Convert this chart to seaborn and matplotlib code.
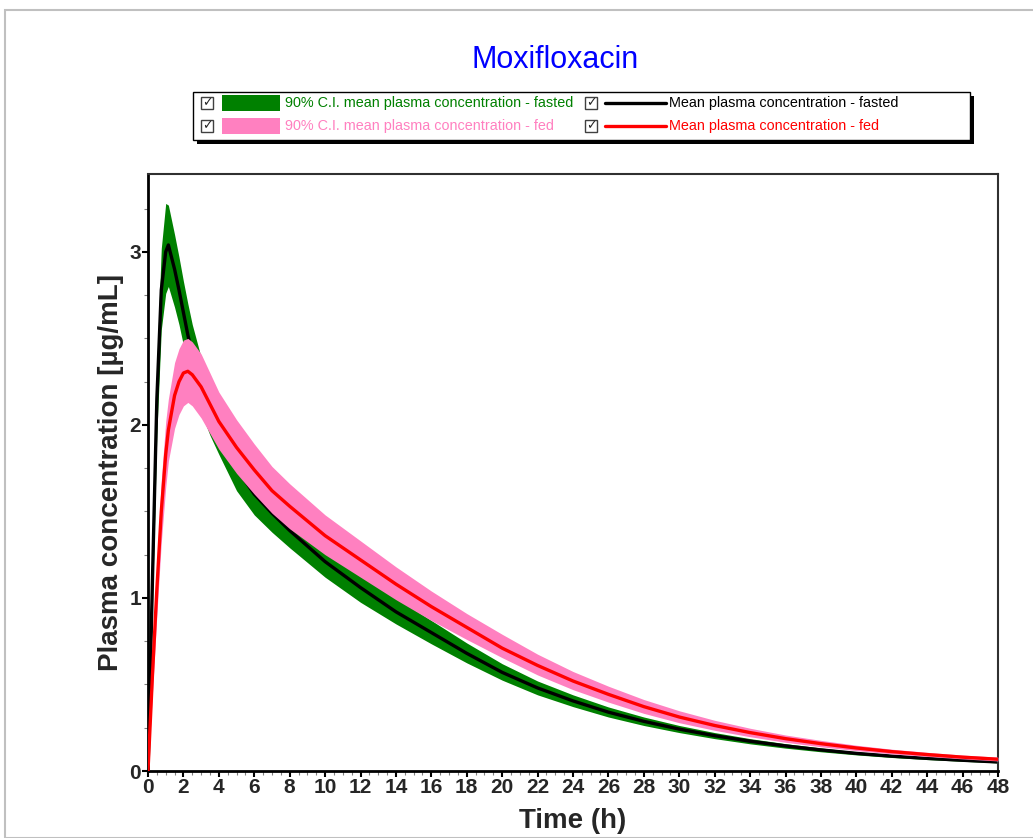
import matplotlib
matplotlib.use("Agg")
import matplotlib.pyplot as plt
import seaborn as sns
import pandas as pd
from matplotlib.patches import Rectangle
from matplotlib.lines import Line2D
from matplotlib.ticker import MultipleLocator

# ---------------- data ----------------
time_h = [0, 0.25, 0.5, 0.75, 1.0, 1.15, 1.5, 1.75, 2.0, 2.25, 2.5, 3, 3.5, 4, 5, 6, 7, 8,
          10, 12, 14, 16, 18, 20, 22, 24, 26, 28, 30, 32, 34, 36, 38, 40, 42, 44, 46, 48]

fasted_mean = [0, 1.10, 2.15, 2.78, 3.00, 3.04, 2.90, 2.78, 2.65, 2.52, 2.41, 2.24, 2.10, 1.98,
               1.75, 1.60, 1.49, 1.39, 1.21, 1.06, 0.92, 0.80, 0.68, 0.57, 0.48, 0.405, 0.34,
               0.287, 0.242, 0.204, 0.172, 0.145, 0.122, 0.102, 0.086, 0.073, 0.062, 0.052]
fasted_upper = [0, 1.25, 2.35, 3.02, 3.28, 3.27, 3.10, 2.97, 2.83, 2.70, 2.58, 2.39, 2.25, 2.12,
                1.90, 1.74, 1.62, 1.51, 1.32, 1.15, 1.00, 0.87, 0.74, 0.62, 0.52, 0.44, 0.37,
                0.312, 0.263, 0.222, 0.187, 0.158, 0.133, 0.111, 0.094, 0.08, 0.068, 0.057]
fasted_lower = [0, 0.95, 1.95, 2.55, 2.76, 2.80, 2.68, 2.58, 2.46, 2.34, 2.24, 2.07, 1.94, 1.83,
                1.62, 1.48, 1.38, 1.29, 1.12, 0.975, 0.85, 0.735, 0.625, 0.525, 0.44, 0.372,
                0.312, 0.263, 0.222, 0.187, 0.157, 0.132, 0.111, 0.093, 0.078, 0.066, 0.056, 0.047]

fed_mean = [0, 0.55, 1.05, 1.50, 1.83, 1.97, 2.17, 2.25, 2.30, 2.31, 2.29, 2.22, 2.12, 2.02,
            1.87, 1.74, 1.62, 1.53, 1.36, 1.22, 1.08, 0.95, 0.83, 0.71, 0.61, 0.52, 0.443,
            0.372, 0.312, 0.263, 0.222, 0.187, 0.158, 0.133, 0.112, 0.095, 0.08, 0.068]
fed_upper = [0, 0.65, 1.20, 1.68, 2.02, 2.15, 2.36, 2.44, 2.49, 2.50, 2.48, 2.41, 2.30, 2.19,
             2.03, 1.89, 1.76, 1.66, 1.48, 1.33, 1.18, 1.04, 0.91, 0.79, 0.675, 0.575, 0.49,
             0.413, 0.348, 0.293, 0.247, 0.208, 0.177, 0.149, 0.126, 0.108, 0.092, 0.08]
fed_lower = [0, 0.45, 0.90, 1.32, 1.64, 1.79, 1.98, 2.06, 2.11, 2.13, 2.11, 2.04, 1.95, 1.86,
             1.72, 1.60, 1.49, 1.40, 1.25, 1.12, 0.99, 0.87, 0.76, 0.655, 0.555, 0.47, 0.398,
             0.333, 0.279, 0.235, 0.198, 0.166, 0.14, 0.118, 0.099, 0.084, 0.07, 0.058]

legend_labels = ["90% C.I. mean plasma concentration - fasted",
                 "90% C.I. mean plasma concentration - fed",
                 "Mean plasma concentration - fasted",
                 "Mean plasma concentration - fed"]
x_ticks = list(range(0, 49, 2))
y_ticks = [0, 1, 2, 3]

GREEN = "#008000"
PINK = "#ff80c0"
RED = "#ff0000"
BLACK = "#000000"

# ---------------- figure ----------------
sns.set_style("ticks")
plt.rcParams["font.family"] = ["Liberation Sans", "DejaVu Sans"]

W, H = 1033, 838
fig = plt.figure(figsize=(W / 100, H / 100), dpi=100)
fig.patch.set_facecolor("white")

# outer gray frame
fig.add_artist(Rectangle((5 / W, 0), 1.2, 1 - 10 / H, transform=fig.transFigure,
                         fill=False, edgecolor="#c0c0c0", lw=1.5))

ax = fig.add_axes([148 / W, 67 / H, 850 / W, 597 / H])

df_fasted = pd.DataFrame({"t": time_h, "c": fasted_mean})
df_fed = pd.DataFrame({"t": time_h, "c": fed_mean})

ax.fill_between(time_h, fasted_lower, fasted_upper, color=GREEN, lw=0, zorder=1)
sns.lineplot(data=df_fasted, x="t", y="c", ax=ax, color=BLACK, lw=2.4, zorder=2,
             estimator=None, sort=False)
ax.fill_between(time_h, fed_lower, fed_upper, color=PINK, lw=0, zorder=3)
sns.lineplot(data=df_fed, x="t", y="c", ax=ax, color=RED, lw=2.4, zorder=4,
             estimator=None, sort=False)

ax.set_xlim(0, 48)
ax.set_ylim(0, 3.45)
ax.set_xticks(x_ticks)
ax.set_yticks(y_ticks)
ax.xaxis.set_minor_locator(MultipleLocator(0.5))
ax.yaxis.set_minor_locator(MultipleLocator(0.25))
ax.tick_params(axis="both", which="major", length=4, width=1.5, color="black",
               labelsize=15, pad=1, direction="out")
ax.tick_params(axis="both", which="minor", length=3, width=0.8, color="#808080",
               direction="out")
for lab in ax.get_xticklabels() + ax.get_yticklabels():
    lab.set_fontweight("bold")

for side in ["left", "bottom"]:
    ax.spines[side].set_linewidth(2)
    ax.spines[side].set_color("black")
for side in ["right", "top"]:
    ax.spines[side].set_visible(True)
    ax.spines[side].set_linewidth(1.5)
    ax.spines[side].set_color("#303030")

ax.set_xlabel("Time (h)", fontsize=20, fontweight="bold", labelpad=8)
ax.set_ylabel("Plasma concentration [µg/mL]", fontsize=20, fontweight="bold", labelpad=4)

fig.text(555 / W, 1 - 60 / H, "Moxifloxacin", color="#0000ff", fontsize=22,
         ha="center", va="center")

# ---------------- legend ----------------
fig.add_artist(Rectangle((197 / W, 1 - 144 / H), 777 / W, 48 / H, transform=fig.transFigure,
                         facecolor="black", edgecolor="none", zorder=5))
fig.add_artist(Rectangle((193 / W, 1 - 140 / H), 777 / W, 48 / H, transform=fig.transFigure,
                         facecolor="white", edgecolor="black", lw=1, zorder=6))


def checkbox(xp, yp):
    fig.add_artist(Rectangle((xp / W, 1 - (yp + 6) / H), 12 / W, 12 / H,
                             transform=fig.transFigure, facecolor="white",
                             edgecolor="#404040", lw=1, zorder=7))
    fig.text((xp + 6) / W, 1 - yp / H, "✓", fontsize=9, fontweight="bold",
             family=["DejaVu Sans"], ha="center", va="center", zorder=8)


rows = [103, 126]
band_colors = [GREEN, PINK]
line_colors = [BLACK, RED]
for i, yp in enumerate(rows):
    checkbox(201, yp)
    fig.add_artist(Rectangle((222 / W, 1 - (yp + 8) / H), 58 / W, 16 / H,
                             transform=fig.transFigure, facecolor=band_colors[i],
                             edgecolor="none", zorder=7))
    fig.text(285 / W, 1 - yp / H, legend_labels[i], color=band_colors[i], fontsize=10.4,
             ha="left", va="center", zorder=8)
    checkbox(585, yp)
    fig.add_artist(Line2D([605 / W, 666 / W], [1 - yp / H, 1 - yp / H],
                          transform=fig.transFigure, color=line_colors[i], lw=2.4, zorder=7))
    fig.text(669 / W, 1 - yp / H, legend_labels[2 + i], color=line_colors[i], fontsize=10.4,
             ha="left", va="center", zorder=8)

fig.savefig("out.png", dpi=100, facecolor="white")
